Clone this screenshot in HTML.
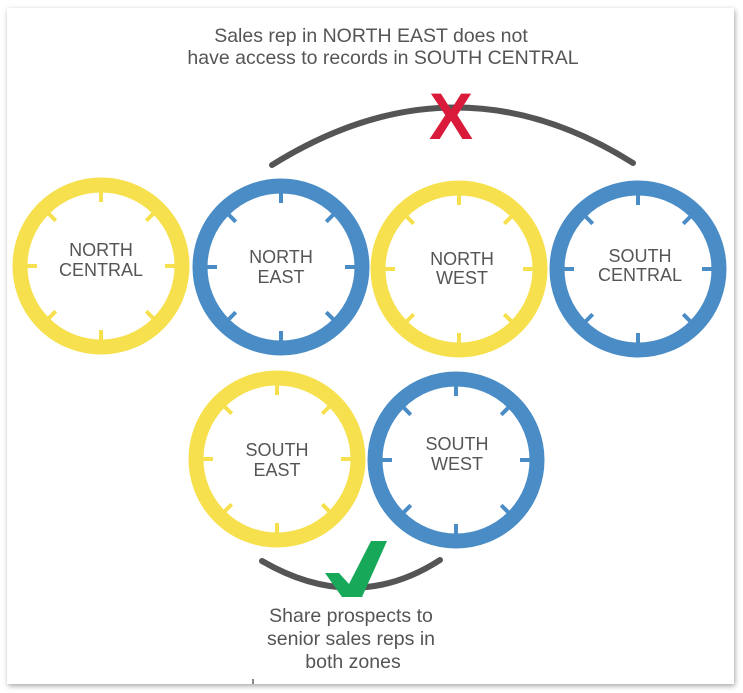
<!DOCTYPE html>
<html><head><meta charset="utf-8"><style>
html,body{margin:0;padding:0;background:#fff;}
body{width:743px;height:693px;position:relative;overflow:hidden;}
.card{position:absolute;left:7px;top:8px;width:727px;height:676px;background:#fff;box-shadow:1px 2px 5px rgba(0,0,0,0.35);}
svg{position:absolute;left:0;top:0;}
text{font-family:"Liberation Sans",sans-serif;fill:#555;}
</style></head><body>
<div class="card"></div>
<svg width="743" height="693" viewBox="0 0 743 693">
<g text-anchor="middle" font-size="19.5">
<text x="371" y="42">Sales rep in NORTH EAST does not</text>
<text x="383" y="64">have access to records in SOUTH CENTRAL</text>
</g>
<path d="M272,165 Q455,51 633,163" fill="none" stroke="#555" stroke-width="6" stroke-linecap="round"/>
<text x="451" y="139" font-size="66" font-weight="bold" text-anchor="middle" style="fill:#d91a3a">X</text>

<g fill="none" stroke-width="15">
<circle cx="101" cy="266" r="81" stroke="#f6e04e"/>
<circle cx="281" cy="267" r="81" stroke="#4a8cc6"/>
<circle cx="459" cy="269" r="81" stroke="#f6e04e"/>
<circle cx="638" cy="269" r="81" stroke="#4a8cc6"/>
<circle cx="277" cy="459" r="81" stroke="#f6e04e"/>
<circle cx="456" cy="460" r="81" stroke="#4a8cc6"/>
</g>
<g stroke-width="4">
<g stroke="#f6e04e" transform="translate(101,266)"><line x1="0" y1="-64" x2="0" y2="-75"/><line x1="0" y1="-64" x2="0" y2="-75" transform="rotate(45)"/><line x1="0" y1="-64" x2="0" y2="-75" transform="rotate(90)"/><line x1="0" y1="-64" x2="0" y2="-75" transform="rotate(135)"/><line x1="0" y1="-64" x2="0" y2="-75" transform="rotate(180)"/><line x1="0" y1="-64" x2="0" y2="-75" transform="rotate(225)"/><line x1="0" y1="-64" x2="0" y2="-75" transform="rotate(270)"/><line x1="0" y1="-64" x2="0" y2="-75" transform="rotate(315)"/></g>
<g stroke="#4a8cc6" transform="translate(281,267)"><line x1="0" y1="-64" x2="0" y2="-75"/><line x1="0" y1="-64" x2="0" y2="-75" transform="rotate(45)"/><line x1="0" y1="-64" x2="0" y2="-75" transform="rotate(90)"/><line x1="0" y1="-64" x2="0" y2="-75" transform="rotate(135)"/><line x1="0" y1="-64" x2="0" y2="-75" transform="rotate(180)"/><line x1="0" y1="-64" x2="0" y2="-75" transform="rotate(225)"/><line x1="0" y1="-64" x2="0" y2="-75" transform="rotate(270)"/><line x1="0" y1="-64" x2="0" y2="-75" transform="rotate(315)"/></g>
<g stroke="#f6e04e" transform="translate(459,269)"><line x1="0" y1="-64" x2="0" y2="-75"/><line x1="0" y1="-64" x2="0" y2="-75" transform="rotate(45)"/><line x1="0" y1="-64" x2="0" y2="-75" transform="rotate(90)"/><line x1="0" y1="-64" x2="0" y2="-75" transform="rotate(135)"/><line x1="0" y1="-64" x2="0" y2="-75" transform="rotate(180)"/><line x1="0" y1="-64" x2="0" y2="-75" transform="rotate(225)"/><line x1="0" y1="-64" x2="0" y2="-75" transform="rotate(270)"/><line x1="0" y1="-64" x2="0" y2="-75" transform="rotate(315)"/></g>
<g stroke="#4a8cc6" transform="translate(638,269)"><line x1="0" y1="-64" x2="0" y2="-75"/><line x1="0" y1="-64" x2="0" y2="-75" transform="rotate(45)"/><line x1="0" y1="-64" x2="0" y2="-75" transform="rotate(90)"/><line x1="0" y1="-64" x2="0" y2="-75" transform="rotate(135)"/><line x1="0" y1="-64" x2="0" y2="-75" transform="rotate(180)"/><line x1="0" y1="-64" x2="0" y2="-75" transform="rotate(225)"/><line x1="0" y1="-64" x2="0" y2="-75" transform="rotate(270)"/><line x1="0" y1="-64" x2="0" y2="-75" transform="rotate(315)"/></g>
<g stroke="#f6e04e" transform="translate(277,459)"><line x1="0" y1="-64" x2="0" y2="-75"/><line x1="0" y1="-64" x2="0" y2="-75" transform="rotate(45)"/><line x1="0" y1="-64" x2="0" y2="-75" transform="rotate(90)"/><line x1="0" y1="-64" x2="0" y2="-75" transform="rotate(135)"/><line x1="0" y1="-64" x2="0" y2="-75" transform="rotate(180)"/><line x1="0" y1="-64" x2="0" y2="-75" transform="rotate(225)"/><line x1="0" y1="-64" x2="0" y2="-75" transform="rotate(270)"/><line x1="0" y1="-64" x2="0" y2="-75" transform="rotate(315)"/></g>
<g stroke="#4a8cc6" transform="translate(456,460)"><line x1="0" y1="-64" x2="0" y2="-75"/><line x1="0" y1="-64" x2="0" y2="-75" transform="rotate(45)"/><line x1="0" y1="-64" x2="0" y2="-75" transform="rotate(90)"/><line x1="0" y1="-64" x2="0" y2="-75" transform="rotate(135)"/><line x1="0" y1="-64" x2="0" y2="-75" transform="rotate(180)"/><line x1="0" y1="-64" x2="0" y2="-75" transform="rotate(225)"/><line x1="0" y1="-64" x2="0" y2="-75" transform="rotate(270)"/><line x1="0" y1="-64" x2="0" y2="-75" transform="rotate(315)"/></g>
</g>
<g text-anchor="middle" font-size="18">
<text x="101" y="256">NORTH</text><text x="101" y="276">CENTRAL</text>
<text x="281" y="263">NORTH</text><text x="281" y="283">EAST</text>
<text x="462" y="265">NORTH</text><text x="462" y="284">WEST</text>
<text x="640" y="262">SOUTH</text><text x="640" y="281">CENTRAL</text>
<text x="277" y="456">SOUTH</text><text x="277" y="476">EAST</text>
<text x="457" y="450">SOUTH</text><text x="457" y="470">WEST</text>
</g>
<path d="M262,561 Q355,615 440,560" fill="none" stroke="#555" stroke-width="6" stroke-linecap="round"/>
<polygon points="325,573 339,573 349,584 371,541 387,541 362,597 342,597" fill="#17a85a"/>
<g text-anchor="middle" font-size="19.5">
<text x="351" y="622">Share prospects to</text>
<text x="351" y="645">senior sales reps in</text>
<text x="353" y="668">both zones</text>
</g>
<rect x="252" y="679" width="2" height="5" fill="#888"/>
</svg>
</body></html>
